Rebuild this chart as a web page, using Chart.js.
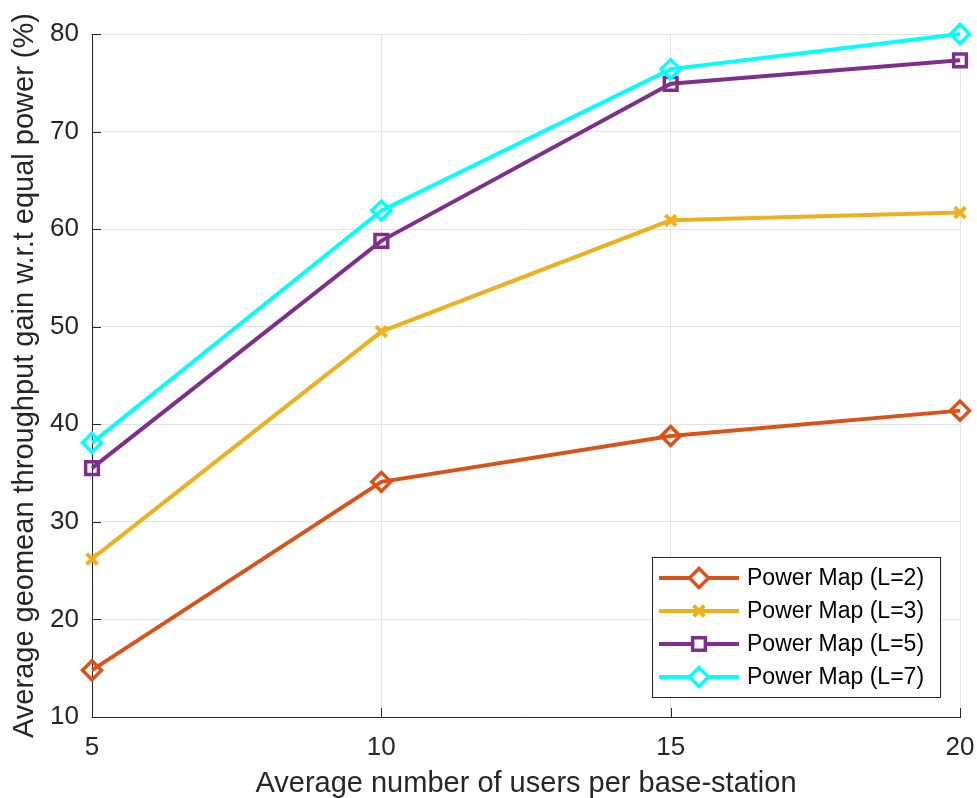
<!DOCTYPE html>
<html>
<head>
<meta charset="utf-8">
<script src="https://cdn.jsdelivr.net/npm/chart.js@4.4.1/dist/chart.umd.min.js"></script>
<style>
  html, body { margin: 0; padding: 0; background: #ffffff; }
  #wrap { width: 977px; height: 798px; position: relative; }
</style>
</head>
<body>
<div id="wrap"><canvas id="c" width="977" height="798"></canvas></div>
<script>
// Average number of users per base-station
const usersPerBS = [5, 10, 15, 20];

// Throughput gain (%) for each power-map level
const gainL2 = [14.8, 34.1, 38.8, 41.4];
const gainL3 = [26.2, 49.5, 60.9, 61.7];
const gainL5 = [35.5, 58.8, 74.9, 77.3];
const gainL7 = [38.1, 61.9, 76.4, 80.0];

const seriesLabels = ['Power Map (L=2)', 'Power Map (L=3)', 'Power Map (L=5)', 'Power Map (L=7)'];

const xTicks = [5, 10, 15, 20];
const yTicks = [10, 20, 30, 40, 50, 60, 70, 80];

const FONT = "'Liberation Sans', Arial, Helvetica, sans-serif";
const AXIS_COLOR = '#262626';

function pts(ys) { return usersPerBS.map((x, i) => ({ x: x, y: ys[i] })); }

function series(label, ys, color, style, radius, markerWidth, order) {
  return {
    label: label,
    data: pts(ys),
    borderColor: color,
    backgroundColor: 'rgba(0,0,0,0)',
    borderWidth: 4,
    pointStyle: style,
    pointRadius: radius,
    pointHoverRadius: radius,
    pointBorderWidth: markerWidth,
    pointBorderColor: color,
    pointBackgroundColor: 'rgba(0,0,0,0)',
    tension: 0,
    clip: false,
    order: order
  };
}

// Inward tick marks on the left and bottom axes
const innerTicks = {
  id: 'innerTicks',
  beforeDatasetsDraw(chart) {
    const { ctx, chartArea: a, scales } = chart;
    const len = 9;
    ctx.save();
    ctx.strokeStyle = AXIS_COLOR;
    ctx.lineWidth = 1;
    ctx.beginPath();
    xTicks.forEach(v => {
      const px = Math.round(scales.x.getPixelForValue(v)) + 0.5;
      ctx.moveTo(px, a.bottom);
      ctx.lineTo(px, a.bottom - len);
    });
    yTicks.forEach(v => {
      const py = Math.round(scales.y.getPixelForValue(v)) + 0.5;
      ctx.moveTo(a.left, py);
      ctx.lineTo(a.left + len, py);
    });
    ctx.stroke();
    ctx.restore();
  }
};

// Boxed legend in the lower-right corner, line + marker per series
const boxLegend = {
  id: 'boxLegend',
  afterDraw(chart) {
    const { ctx, chartArea: a } = chart;
    const w = 288, h = 140;
    const x0 = a.right - 20 - w;
    const y0 = a.bottom - 20 - h;
    ctx.save();
    ctx.fillStyle = '#ffffff';
    ctx.fillRect(x0, y0, w, h);
    ctx.strokeStyle = AXIS_COLOR;
    ctx.lineWidth = 1;
    ctx.strokeRect(x0 + 0.5, y0 + 0.5, w, h);
    chart.data.datasets.forEach((ds, i) => {
      const cy = y0 + 21 + i * 33;
      ctx.strokeStyle = ds.borderColor;
      ctx.lineWidth = ds.borderWidth;
      ctx.beginPath();
      ctx.moveTo(x0 + 7, cy);
      ctx.lineTo(x0 + 87, cy);
      ctx.stroke();
      ctx.lineWidth = ds.pointBorderWidth;
      ctx.fillStyle = '#ffffff';
      Chart.helpers.drawPoint(ctx, {
        pointStyle: ds.pointStyle,
        radius: ds.pointRadius,
        rotation: 0,
        borderWidth: ds.pointBorderWidth
      }, x0 + 47, cy);
      ctx.fillStyle = '#000000';
      ctx.font = '23px ' + FONT;
      ctx.textAlign = 'left';
      ctx.textBaseline = 'middle';
      ctx.fillText(ds.label, x0 + 95, cy + 1);
    });
    ctx.restore();
  }
};

new Chart(document.getElementById('c'), {
  type: 'line',
  data: {
    datasets: [
      series(seriesLabels[0], gainL2, '#D95319', 'rectRot', 9.5, 3.5, 3),
      series(seriesLabels[1], gainL3, '#EDB120', 'crossRot', 7.5, 4, 2),
      series(seriesLabels[2], gainL5, '#7E2F8E', 'rect', 9, 3.5, 1),
      series(seriesLabels[3], gainL7, '#00FFFF', 'rectRot', 9.5, 3.5, 0)
    ]
  },
  options: {
    responsive: false,
    animation: false,
    devicePixelRatio: 1,
    layout: { padding: { top: 34, right: 17, bottom: 0, left: 0 } },
    plugins: {
      legend: { display: false },
      tooltip: { enabled: false }
    },
    scales: {
      x: {
        type: 'linear',
        min: 5,
        max: 20,
        afterBuildTicks(scale) { scale.ticks = xTicks.map(v => ({ value: v })); },
        afterFit(scale) {
          scale.height = 81;
          scale.paddingLeft = 0;
          scale.paddingRight = 0;
        },
        grid: { color: '#e3e3e3', lineWidth: 1, drawTicks: false },
        border: { display: true, color: AXIS_COLOR, width: 1 },
        ticks: {
          padding: 15,
          color: AXIS_COLOR,
          font: { family: FONT, size: 26 },
          maxRotation: 0
        },
        title: {
          display: true,
          text: 'Average number of users per base-station',
          color: AXIS_COLOR,
          font: { family: FONT, size: 29, lineHeight: 1 },
          padding: { top: 0, bottom: 0 }
        }
      },
      y: {
        type: 'linear',
        min: 10,
        max: 80,
        afterBuildTicks(scale) { scale.ticks = yTicks.map(v => ({ value: v })); },
        afterFit(scale) {
          scale.width = 92;
          scale.paddingTop = 0;
          scale.paddingBottom = 0;
        },
        grid: { color: '#e3e3e3', lineWidth: 1, drawTicks: false },
        border: { display: true, color: AXIS_COLOR, width: 1 },
        ticks: {
          padding: 13,
          color: AXIS_COLOR,
          font: { family: FONT, size: 26 }
        },
        title: {
          display: true,
          text: 'Average geomean throughput gain w.r.t equal power (%)',
          color: AXIS_COLOR,
          font: { family: FONT, size: 29, lineHeight: 1 },
          padding: { top: 10, bottom: 0 }
        }
      }
    }
  },
  plugins: [innerTicks, boxLegend]
});
</script>
</body>
</html>
